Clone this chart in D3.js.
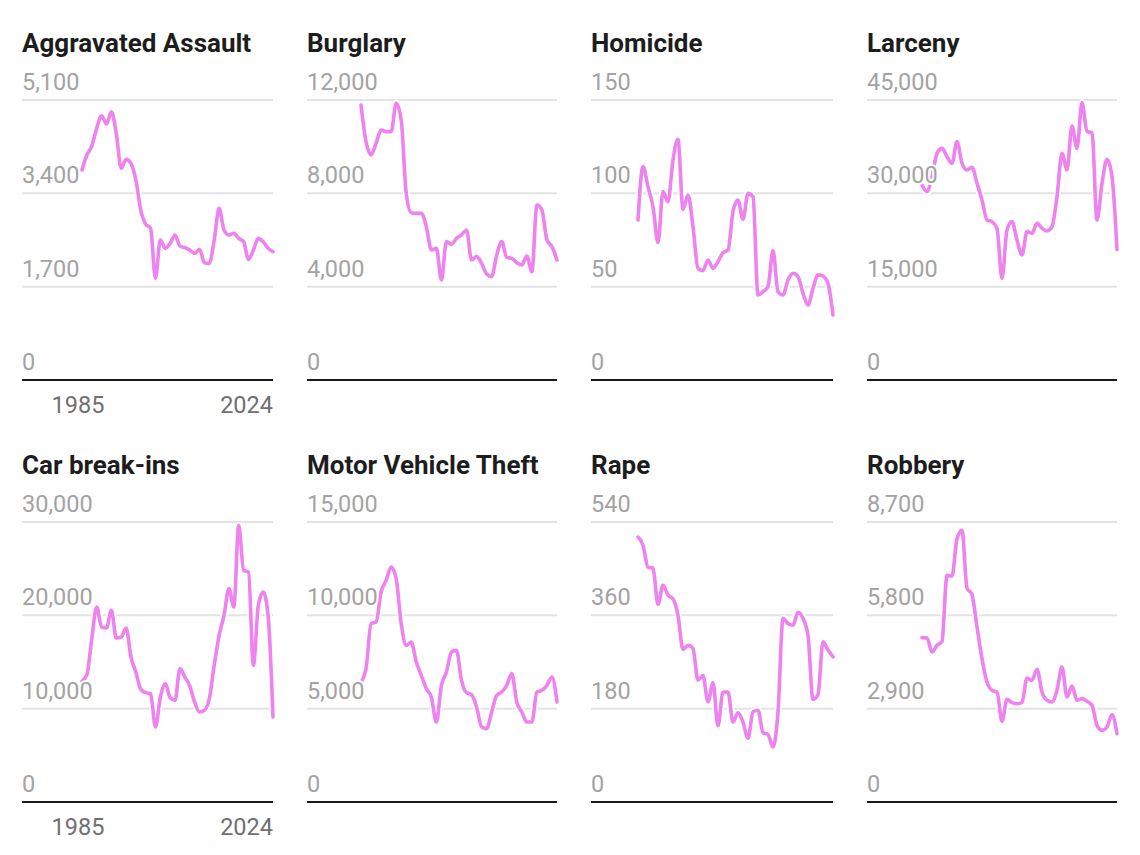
<!DOCTYPE html>
<html>
<head>
<meta charset="utf-8">
<script src="https://cdn.jsdelivr.net/npm/d3@7"></script>
<style>
  body { margin: 0; background: #fff; }
  svg { font-family: Roboto, "Noto Sans", sans-serif; }
</style>
</head>
<body>
<div class="chart"></div>
<script>
// Chart size.
var w = 1140,
    h = 855;

// Years shared by every panel.
var years = d3.range(1985, 2025);
var xTickLabels = [1985, 2024];

// Panel titles, in reading order.
var titles = ["Aggravated Assault", "Burglary", "Homicide", "Larceny",
              "Car break-ins", "Motor Vehicle Theft", "Rape", "Robbery"];

// Top of each y axis (ticks at 0, 1/3, 2/3 and max).
var yMax = [5100, 12000, 150, 45000, 30000, 15000, 540, 8700];

// Series values, 1985 - 2024.
var aggravatedAssault = [3825, 4098, 4262, 4584, 4814, 4663, 4887, 4493, 3855, 4019,
  3946, 3643, 3096, 2841, 2762, 1852, 2550, 2398, 2489, 2641,
  2441, 2410, 2368, 2307, 2380, 2137, 2125, 2550, 3127, 2732,
  2641, 2671, 2580, 2519, 2198, 2368, 2580, 2519, 2398, 2337];
var burglary = [11786, 10214, 9643, 10143, 10714, 10643, 10643, 11857, 11143, 8000,
  7171, 7143, 7143, 6571, 5571, 5643, 4286, 5929, 5814, 6071,
  6214, 6429, 5143, 5286, 5000, 4543, 4429, 5357, 5929, 5257,
  5214, 5029, 4929, 5314, 4643, 7500, 7286, 6000, 5714, 5143];
var homicide = [85.7, 114.3, 103.6, 92.9, 73.6, 100.9, 95.5, 117.9, 128.9, 91.4,
  99.1, 82.1, 59.8, 58.6, 64.3, 59.8, 63.4, 68.2, 69.6, 90.2,
  96.4, 86.1, 100, 98.2, 45.5, 47.3, 50, 69.3, 47.3, 45.5,
  53.6, 57.1, 55.4, 46.4, 40.2, 49.1, 56.3, 55.7, 51.8, 34.8];
var larceny = [31339, 30268, 32679, 36429, 37232, 35893, 34821, 38304, 34821, 33750,
  34179, 31607, 28929, 25714, 25446, 24375, 16339, 24107, 25446, 22500,
  20089, 23839, 23571, 25179, 24375, 23946, 24643, 29464, 36429, 33750,
  40821, 37232, 44571, 39911, 39750, 25714, 31607, 35464, 32679, 21000];
var carBreakIns = [12929, 13643, 17500, 20893, 18750, 18643, 20536, 17571, 17679, 18643,
  15536, 13929, 12071, 11714, 11607, 8036, 11250, 12679, 11179, 10893,
  14286, 13393, 12429, 10714, 9643, 9821, 11071, 14643, 17857, 20000,
  22857, 20893, 29643, 24821, 24643, 14643, 21071, 22500, 20000, 9107];
var motorVehicleTheft = [6429, 7143, 9554, 9643, 11250, 11875, 12589, 11964, 9554, 8393,
  8571, 7500, 6786, 6071, 5625, 4286, 6250, 6964, 8036, 8125,
  6518, 5857, 5750, 5089, 4018, 3929, 4821, 5714, 5893, 6250,
  6875, 5357, 4821, 4286, 4286, 5893, 5982, 6250, 6696, 5357];
var rape = [511, 495, 453, 451, 381, 418, 399, 392, 360, 294,
  302, 296, 235, 244, 193, 230, 147, 212, 212, 154,
  172, 154, 123, 174, 177, 134, 130, 106, 174, 354,
  344, 341, 366, 354, 321, 198, 207, 309, 293, 280];
var robbery = [5106, 5096, 4661, 4868, 4992, 7043, 7022, 8182, 8441, 6649,
  6442, 5438, 4454, 3729, 3470, 3418, 2506, 3190, 3086, 3055,
  3086, 3853, 3780, 4122, 3418, 3159, 3107, 3470, 4195, 3262,
  3604, 3159, 3211, 3128, 3004, 2382, 2227, 2330, 2714, 2123];

var series = [aggravatedAssault, burglary, homicide, larceny,
              carBreakIns, motorVehicleTheft, rape, robbery];

// Layout of the grid of panels.
var colLeft = [22, 307, 591, 867],
    colRight = [273, 557, 833, 1117],
    lineInset = [60, 54, 47, 55];
var rowStep = 422,
    gridTop = 100,
    baseY = 380;

var lineColor = "#ee82ee";

var svg = d3.select(".chart").append("svg")
  .attr("width", w)
  .attr("height", h);

titles.forEach(function(title, i) {
    var col = i % 4,
        row = Math.floor(i / 4);
    var g = svg.append("g")
      .attr("transform", "translate(0," + (row * rowStep) + ")");
    drawPanel(g, i, col, row);
});

function drawPanel(g, i, col, row) {
    var left = colLeft[col],
        right = colRight[col];

    var xScale = d3.scaleLinear()
      .domain([years[0], years[years.length - 1]])
      .range([left + lineInset[col], right]);

    var yScale = d3.scaleLinear()
      .domain([0, yMax[i]])
      .range([baseY, gridTop]);

    var yTicks = [0, 1, 2, 3].map(function(k) { return yMax[i] * k / 3; });

    // Title.
    g.append("text")
      .attr("x", left)
      .attr("y", 52)
      .style("font-size", "26px")
      .style("font-weight", "700")
      .style("fill", "#1d1d1d")
      .text(titles[i]);

    // Gridlines.
    g.selectAll(".grid")
      .data(yTicks.slice(1))
      .enter()
      .append("line")
      .attr("class", "grid")
      .attr("x1", left)
      .attr("x2", right)
      .attr("y1", function(d) { return yScale(d); })
      .attr("y2", function(d) { return yScale(d); })
      .attr("stroke", "#e3e3e3")
      .attr("stroke-width", 2);

    var line = d3.line()
      .x(function(d, k) { return xScale(years[k]); })
      .y(function(d) { return yScale(d); })
      .curve(d3.curveMonotoneX);

    // White halo behind the line.
    g.append("path")
      .datum(series[i])
      .attr("d", line)
      .attr("fill", "none")
      .attr("stroke", "#fff")
      .attr("stroke-width", 7)
      .attr("stroke-linejoin", "round");

    g.append("path")
      .datum(series[i])
      .attr("d", line)
      .attr("fill", "none")
      .attr("stroke", lineColor)
      .attr("stroke-width", 3.6)
      .attr("stroke-linejoin", "round")
      .attr("stroke-linecap", "round");

    // Y tick labels sit above their gridlines, with a white halo.
    g.selectAll(".ylabel")
      .data(yTicks)
      .enter()
      .append("text")
      .attr("class", "ylabel")
      .attr("x", left)
      .attr("y", function(d) { return yScale(d) - 10; })
      .style("font-size", "23.5px")
      .style("fill", "#a3a3a3")
      .style("stroke", "#fff")
      .style("stroke-width", 4)
      .style("paint-order", "stroke")
      .style("stroke-linejoin", "round")
      .text(function(d) { return d3.format(",")(Math.round(d)); });

    // Baseline.
    g.append("line")
      .attr("x1", left)
      .attr("x2", right)
      .attr("y1", baseY)
      .attr("y2", baseY)
      .attr("stroke", "#1a1a1a")
      .attr("stroke-width", 2);

    // X labels only on the first column.
    if (col === 0) {
        g.selectAll(".xlabel")
          .data(xTickLabels)
          .enter()
          .append("text")
          .attr("class", "xlabel")
          .attr("x", function(d, k) { return k === 0 ? xScale(d) - 4 : xScale(d); })
          .attr("y", baseY + 33)
          .style("text-anchor", function(d, k) { return k === 0 ? "middle" : "end"; })
          .style("font-size", "23.5px")
          .style("fill", "#707070")
          .text(function(d) { return d; });
    }
}
</script>
</body>
</html>
